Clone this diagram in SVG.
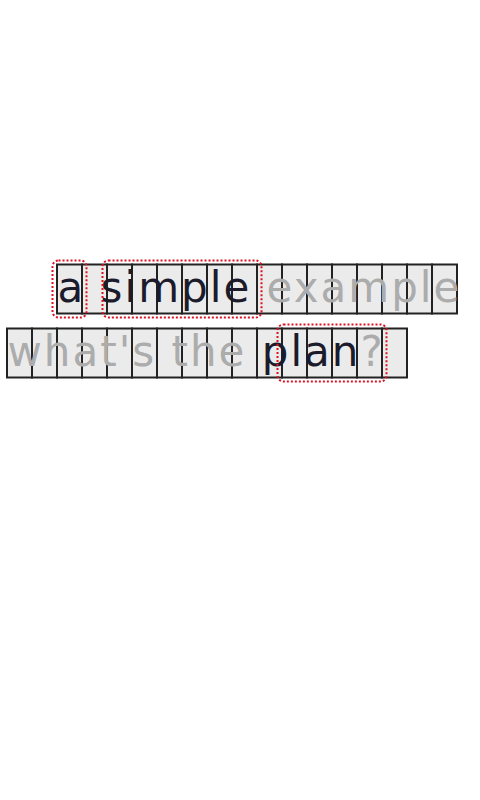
<svg xmlns="http://www.w3.org/2000/svg" width="480" height="800" viewBox="0 0 480 800">
  <style>
    .cell { fill: #ebebeb; stroke: #222222; stroke-width: 2; }
    .txt { font-family: "DejaVu Sans", sans-serif; font-size: 42px; letter-spacing: 2px; }
    .dk { fill: #1c1b2b; }
    .gr { fill: #acacac; }
    .tok { fill: none; stroke: #dd1122; stroke-width: 2; stroke-dasharray: 2 2; }
  </style>
  <rect width="480" height="800" fill="#ffffff"/>
  <g id="row1">
    <rect class="cell" x="57" y="264.5" width="25" height="49"/>
    <rect class="cell" x="82" y="264.5" width="25" height="49"/>
    <rect class="cell" x="107" y="264.5" width="25" height="49"/>
    <rect class="cell" x="132" y="264.5" width="25" height="49"/>
    <rect class="cell" x="157" y="264.5" width="25" height="49"/>
    <rect class="cell" x="182" y="264.5" width="25" height="49"/>
    <rect class="cell" x="207" y="264.5" width="25" height="49"/>
    <rect class="cell" x="232" y="264.5" width="25" height="49"/>
    <rect class="cell" x="257" y="264.5" width="25" height="49"/>
    <rect class="cell" x="282" y="264.5" width="25" height="49"/>
    <rect class="cell" x="307" y="264.5" width="25" height="49"/>
    <rect class="cell" x="332" y="264.5" width="25" height="49"/>
    <rect class="cell" x="357" y="264.5" width="25" height="49"/>
    <rect class="cell" x="382" y="264.5" width="25" height="49"/>
    <rect class="cell" x="407" y="264.5" width="25" height="49"/>
    <rect class="cell" x="432" y="264.5" width="25" height="49"/>
    <text class="txt" x="57.5" y="302"><tspan class="dk">a simple </tspan><tspan class="gr">example</tspan></text>
  </g>
  <g id="row2">
    <rect class="cell" x="7" y="328.5" width="25" height="49"/>
    <rect class="cell" x="32" y="328.5" width="25" height="49"/>
    <rect class="cell" x="57" y="328.5" width="25" height="49"/>
    <rect class="cell" x="82" y="328.5" width="25" height="49"/>
    <rect class="cell" x="107" y="328.5" width="25" height="49"/>
    <rect class="cell" x="132" y="328.5" width="25" height="49"/>
    <rect class="cell" x="157" y="328.5" width="25" height="49"/>
    <rect class="cell" x="182" y="328.5" width="25" height="49"/>
    <rect class="cell" x="207" y="328.5" width="25" height="49"/>
    <rect class="cell" x="232" y="328.5" width="25" height="49"/>
    <rect class="cell" x="257" y="328.5" width="25" height="49"/>
    <rect class="cell" x="282" y="328.5" width="25" height="49"/>
    <rect class="cell" x="307" y="328.5" width="25" height="49"/>
    <rect class="cell" x="332" y="328.5" width="25" height="49"/>
    <rect class="cell" x="357" y="328.5" width="25" height="49"/>
    <rect class="cell" x="382" y="328.5" width="25" height="49"/>
    <text class="txt" x="7.5" y="366"><tspan class="gr">what's the </tspan><tspan class="dk">plan</tspan><tspan class="gr">?</tspan></text>
  </g>
  <g id="token-a">
    <rect class="tok" x="52.5" y="260.5" width="34" height="57" rx="6"/>
  </g>
  <g id="token-simple">
    <rect class="tok" x="102.5" y="260.5" width="159" height="57" rx="6"/>
  </g>
  <g id="token-plan">
    <rect class="tok" x="277.5" y="324.5" width="109" height="57" rx="6"/>
  </g>
</svg>
